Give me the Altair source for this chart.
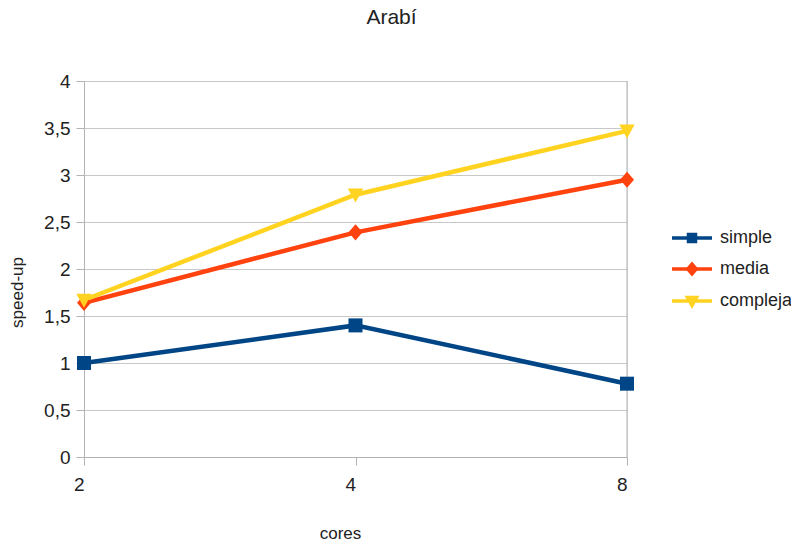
import altair as alt
import pandas as pd

# Speed-up per core count for each query complexity
cores = ["2", "4", "8"]
series = ["simple", "media", "compleja"]
simple = [1.00, 1.40, 0.78]
media = [1.64, 2.39, 2.95]
compleja = [1.67, 2.79, 3.47]

colors = ["#004586", "#ff420e", "#ffd320"]
marker_paths = [
    "M-1,-1H1V1H-1Z",
    "M0,-1.15L1,0L0,1.15L-1,0Z",
    "M-1.1,-0.9H1.1L0,1.1Z",
]
# legend glyphs: a line segment with the marker in the middle
legend_paths = [
    "M-2,0H2M-0.35,-0.35H0.35V0.35H-0.35Z",
    "M-2,0H2M0,-0.48L0.42,0L0,0.48L-0.42,0Z",
    "M-2,0H2M-0.45,-0.36H0.45L0,0.45Z",
]

rows = []
for name, vals in zip(series, [simple, media, compleja]):
    for c, v in zip(cores, vals):
        rows.append({"cores": c, "serie": name, "speedup": v})
df = pd.DataFrame(rows)

FONT = "Liberation Sans"
TXT = "#222222"
AXIS_GRAY = "#b3b3b3"

x_scale = alt.Scale(type="point", padding=0)

x = alt.X(
    "cores:O",
    sort=cores,
    scale=x_scale,
    axis=alt.Axis(
        title="cores",
        labelAngle=0,
        labelFontSize=19,
        labelFont=FONT,
        labelColor=TXT,
        labelPadding=19,
        tickSize=8,
        tickColor=AXIS_GRAY,
        domainColor=AXIS_GRAY,
        grid=False,
        titleFont=FONT,
        titleFontSize=17,
        titleFontWeight="normal",
        titleColor=TXT,
        titleX=256,
        titleY=76,
        titleBaseline="middle",
    ),
)
y = alt.Y(
    "speedup:Q",
    scale=alt.Scale(domain=[0, 4]),
    axis=alt.Axis(
        title="speed-up",
        values=[0, 0.5, 1, 1.5, 2, 2.5, 3, 3.5, 4],
        labelExpr="replace(toString(datum.value), '.', ',')",
        labelFontSize=19,
        labelFont=FONT,
        labelColor=TXT,
        labelPadding=6,
        tickSize=8,
        tickColor=AXIS_GRAY,
        domainColor=AXIS_GRAY,
        gridColor="#c8c8c8",
        titleFont=FONT,
        titleFontSize=17,
        titleFontWeight="normal",
        titleColor=TXT,
        titleAngle=-90,
        titleX=-67,
        titleY=211,
        titleAlign="center",
        titleBaseline="middle",
    ),
)

right_edge = alt.Chart(pd.DataFrame({"cores": ["8"]})).mark_rule(
    color=AXIS_GRAY, strokeWidth=1
).encode(x=alt.X("cores:O", sort=cores, scale=x_scale))

# one line layer and one marker layer per series
line_layers = []
marker_layers = []
for name, col, path in zip(series, colors, marker_paths):
    base = alt.Chart(df).transform_filter(alt.datum.serie == name)
    line_layers.append(base.mark_line(strokeWidth=4.5, color=col).encode(x=x, y=y))
    marker_layers.append(
        base.mark_point(filled=True, opacity=1, size=196, shape=path, color=col).encode(x=x, y=y)
    )

legend_opts = dict(
    title=None,
    orient="none",
    legendX=596,
    legendY=145,
    symbolSize=400,
    symbolStrokeWidth=3.5,
    symbolOpacity=1,
    rowPadding=8,
    labelFont=FONT,
    labelFontSize=18,
    labelColor=TXT,
    labelOffset=16,
)

# nearly invisible layer that carries the legend (line + marker glyphs)
legend_layer = alt.Chart(df).mark_point(filled=True, opacity=0.001, size=10).encode(
    x=x,
    y=y,
    fill=alt.Fill("serie:N", scale=alt.Scale(domain=series, range=colors), legend=alt.Legend(**legend_opts)),
    stroke=alt.Stroke("serie:N", scale=alt.Scale(domain=series, range=colors), legend=alt.Legend(**legend_opts)),
    shape=alt.Shape("serie:N", scale=alt.Scale(domain=series, range=legend_paths), legend=alt.Legend(**legend_opts)),
)

chart = (
    alt.layer(right_edge, *line_layers, *marker_layers, legend_layer)
    .properties(
        width=543,
        height=376,
        title=alt.TitleParams(
            "Arabí",
            font=FONT,
            fontSize=21,
            fontWeight="normal",
            color=TXT,
            anchor="middle",
            dx=36,
            offset=44,
        ),
        autosize=alt.AutoSizeParams(type="none"),
        padding={"left": 84, "top": 81, "right": 164, "bottom": 88},
    )
    .configure_view(stroke=None)
    .configure(background="white")
)

chart.save("out.html", embed_options={"renderer": "svg", "actions": False})
